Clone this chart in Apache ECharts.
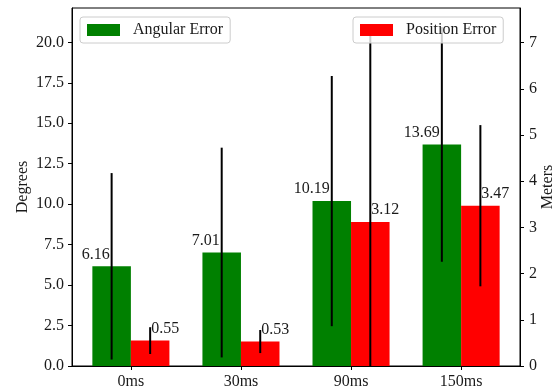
<!DOCTYPE html>
<html>
<head>
<meta charset="utf-8">
<script src="https://cdn.jsdelivr.net/npm/echarts@6/dist/echarts.min.js"></script>
<style>
html,body{margin:0;padding:0;background:#fff;}
#chart{width:559px;height:391px;}
</style>
</head>
<body>
<div id="chart"></div>
<script>
// ---- data ----
var categories = ['0ms', '30ms', '90ms', '150ms'];
var angularError = [6.16, 7.01, 10.19, 13.69];
var angularStd = [5.76, 6.48, 7.73, 7.25];
var positionError = [0.55, 0.53, 3.12, 3.47];
var positionStd = [0.29, 0.25, 4.2, 1.745];
var leftTicks = [0, 2.5, 5, 7.5, 10, 12.5, 15, 17.5, 20];
var rightTicks = [0, 1, 2, 3, 4, 5, 6, 7];
var catTicks = [0, 1, 2, 3];

var FONT = 'Liberation Serif';
var TXT = '#1a1a1a';
var BAR_W = 0.35;

function buildData(vals, stds) {
  return vals.map(function (v, i) { return [i, v, stds[i]]; });
}

function makeRender(offset, side) {
  return function (params, api) {
    var i = api.value(0), v = api.value(1), s = api.value(2);
    var left = i + offset;
    var p0 = api.coord([left, 0]);
    var p1 = api.coord([left + BAR_W, v]);
    var cx = api.coord([left + BAR_W / 2, v])[0];
    var eTop = api.coord([left + BAR_W / 2, v + s]);
    var eBot = api.coord([left + BAR_W / 2, v - s]);
    var color = api.visual('color');
    return {
      type: 'group',
      children: [
        { type: 'rect', shape: { x: p0[0], y: p1[1], width: p1[0] - p0[0], height: p0[1] - p1[1] },
          style: { fill: color } },
        { type: 'line', shape: { x1: cx, y1: eTop[1], x2: cx, y2: eBot[1] },
          style: { stroke: '#000', lineWidth: 2 } },
        { type: 'text', x: side === 'right' ? cx - 2 : cx + 1, y: p1[1] - 4,
          style: { text: v.toFixed(2), fill: TXT, font: '16px "' + FONT + '"',
                   align: side === 'right' ? 'right' : 'left', verticalAlign: 'bottom' } }
      ]
    };
  };
}

var chart = echarts.init(document.getElementById('chart'), null, { renderer: 'canvas' });
var option = {
  animation: false,
  backgroundColor: '#fff',
  textStyle: { fontFamily: FONT, color: TXT },
  grid: { left: 72, right: 39, top: 8, bottom: 25, outerBoundsMode: 'none', containLabel: false,
          show: true, borderColor: '#000', borderWidth: 1, backgroundColor: 'transparent' },
  legend: [
    { data: ['Angular Error'], left: 80, top: 17, icon: 'rect', itemWidth: 33, itemHeight: 12,
      padding: [5, 7, 5, 7], backgroundColor: 'rgba(255,255,255,0.8)', borderColor: '#cccccc', borderWidth: 1, borderRadius: 3,
      textStyle: { fontFamily: FONT, fontSize: 16, color: TXT, padding: [0, 0, 0, 8], width: 98 }, selectedMode: false },
    { data: ['Position Error'], left: 353, top: 17, icon: 'rect', itemWidth: 33, itemHeight: 12,
      padding: [5, 7, 5, 7], backgroundColor: 'rgba(255,255,255,0.8)', borderColor: '#cccccc', borderWidth: 1, borderRadius: 3,
      textStyle: { fontFamily: FONT, fontSize: 16, color: TXT, padding: [0, 0, 0, 8], width: 98 }, selectedMode: false }
  ],
  xAxis: {
    type: 'value', min: -0.535, max: 3.535,
    axisLine: { show: true, onZero: false, lineStyle: { color: '#000', width: 1 } },
    axisTick: { show: true, inside: false, length: 4, customValues: catTicks, lineStyle: { color: '#000' } },
    axisLabel: { customValues: catTicks, margin: 8, fontSize: 16, color: TXT, fontFamily: FONT,
      formatter: function (v) { return categories[Math.round(v)]; } },
    splitLine: { show: false }
  },
  yAxis: [
    { type: 'value', min: 0, max: 22.12, position: 'left',
      name: 'Degrees', nameLocation: 'middle', nameRotate: 90, nameGap: 41, nameMoveOverlap: false,
      nameTextStyle: { fontFamily: FONT, fontSize: 16, color: TXT },
      axisLine: { show: true, onZero: false, lineStyle: { color: '#000', width: 1 } },
      axisTick: { show: true, inside: false, length: 4, customValues: leftTicks, lineStyle: { color: '#000' } },
      axisLabel: { customValues: leftTicks, margin: 8, fontSize: 16, color: TXT, fontFamily: FONT,
        formatter: function (v) { return v.toFixed(1); } },
      splitLine: { show: false } },
    { type: 'value', min: 0, max: 7.75, position: 'right',
      name: 'Meters', nameLocation: 'middle', nameRotate: 90, nameGap: 20, nameMoveOverlap: false,
      nameTextStyle: { fontFamily: FONT, fontSize: 16, color: TXT },
      axisLine: { show: true, onZero: false, lineStyle: { color: '#000', width: 1 } },
      axisTick: { show: true, inside: false, length: 4, customValues: rightTicks, lineStyle: { color: '#000' } },
      axisLabel: { customValues: rightTicks, margin: 9, fontSize: 16, color: TXT, fontFamily: FONT,
        formatter: function (v) { return String(v); } },
      splitLine: { show: false } }
  ],
  series: [
    { name: 'Angular Error', type: 'custom', yAxisIndex: 0, clip: true,
      itemStyle: { color: '#008000' },
      encode: { x: 0, y: [1] },
      data: buildData(angularError, angularStd),
      renderItem: makeRender(-BAR_W, 'right') },
    { name: 'Position Error', type: 'custom', yAxisIndex: 1, clip: true,
      itemStyle: { color: '#ff0000' },
      encode: { x: 0, y: [1] },
      data: buildData(positionError, positionStd),
      renderItem: makeRender(0, 'left') }
  ]
};
chart.setOption(option);
</script>
</body>
</html>
